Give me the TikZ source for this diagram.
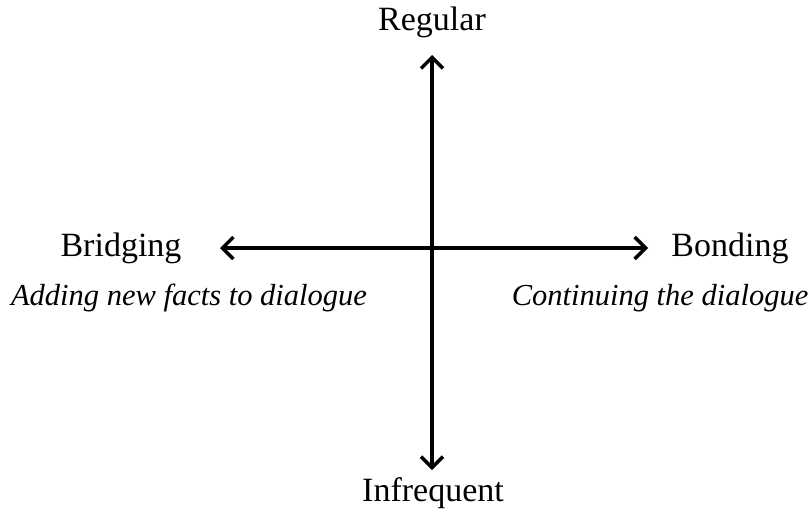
\documentclass[tikz,border=0pt]{standalone}
\usepackage{fontspec}
\setmainfont{Liberation Serif}
\usetikzlibrary{arrows.meta}
\begin{document}
\begin{tikzpicture}[x=1pt,y=-1pt,
  lbl/.style={font=\fontsize{34}{38}\selectfont, inner sep=0pt},
  sub/.style={font=\fontsize{30.5}{34}\selectfont\itshape, inner sep=0pt},
  tip/.style={Straight Barb[length=11pt,width=22pt,line width=3.5pt]},
  axis/.style={line width=3.5pt, {Straight Barb[length=11pt,width=22pt,line width=3.5pt]}-{Straight Barb[length=11pt,width=22pt,line width=3.5pt]}}]
\useasboundingbox (0,0) rectangle (811,515);
\coordinate (top) at (432,55);
\coordinate (bot) at (432,470);
\coordinate (left) at (220,248);
\coordinate (right) at (648,248);
\draw[axis] (top) -- (bot);
\draw[axis] (left) -- (right);
\node[lbl] (reg) at (432,22) {Regular};
\node[lbl] (inf) at (433,493) {Infrequent};
\node[lbl] (bri) at (121,248) {Bridging};
\node[lbl] (bon) at (730,248) {Bonding};
\node[sub] (add) at (189,298) {Adding new facts to dialogue};
\node[sub] (con) at (660,298) {Continuing the dialogue};
\end{tikzpicture}
\end{document}
